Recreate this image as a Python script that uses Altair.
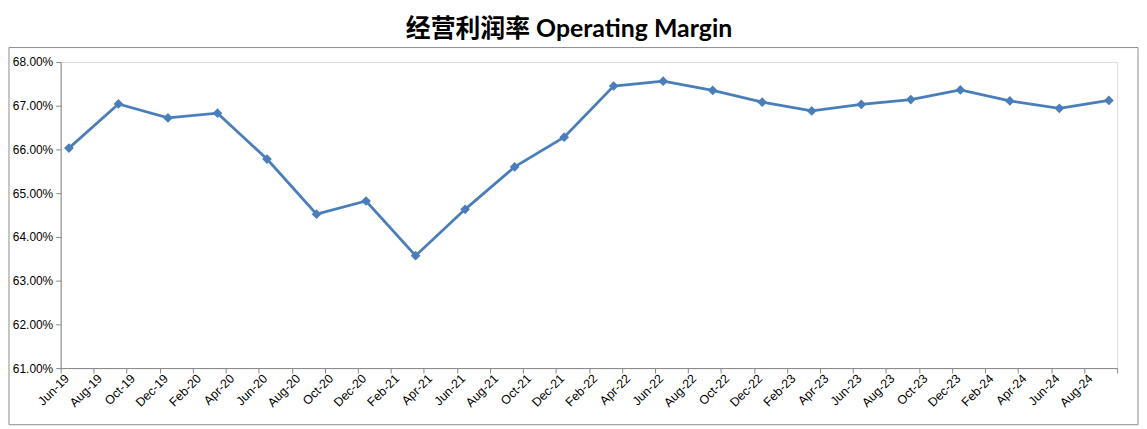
import altair as alt
import pandas as pd

# ---- data ----
quarters = ["Jun-19", "Sep-19", "Dec-19", "Mar-20", "Jun-20", "Sep-20", "Dec-20",
            "Mar-21", "Jun-21", "Sep-21", "Dec-21", "Mar-22", "Jun-22", "Sep-22",
            "Dec-22", "Mar-23", "Jun-23", "Sep-23", "Dec-23", "Mar-24", "Jun-24", "Sep-24"]
margin_pct = [66.03, 67.04, 66.72, 66.83, 65.78, 64.52, 64.82, 63.57, 64.63, 65.60,
              66.28, 67.45, 67.56, 67.35, 67.08, 66.88, 67.03, 67.14, 67.36, 67.11,
              66.94, 67.12]
tick_labels = ["Jun-19", "Aug-19", "Oct-19", "Dec-19", "Feb-20", "Apr-20", "Jun-20",
               "Aug-20", "Oct-20", "Dec-20", "Feb-21", "Apr-21", "Jun-21", "Aug-21",
               "Oct-21", "Dec-21", "Feb-22", "Apr-22", "Jun-22", "Aug-22", "Oct-22",
               "Dec-22", "Feb-23", "Apr-23", "Jun-23", "Aug-23", "Oct-23", "Dec-23",
               "Feb-24", "Apr-24", "Jun-24", "Aug-24"]
y_ticks = [61, 62, 63, 64, 65, 66, 67, 68]
title_text = "经营利润率 Operating Margin"

# ---- build table ----
dates = pd.to_datetime(quarters, format="%b-%y")
start = dates[0]
month_idx = [(d.year - start.year) * 12 + (d.month - start.month) + 0.5 for d in dates]
df = pd.DataFrame({"m": month_idx, "v": [x / 100 for x in margin_pct], "q": quarters})

n_months = 2 * len(tick_labels)  # axis spans through the unlabeled last tick
tick_vals = list(range(0, n_months + 1, 2))
label_arr = "[" + ",".join("'" + t + "'" for t in tick_labels) + "]"
label_expr = f"datum.value/2 < {len(tick_labels)} ? {label_arr}[datum.value/2] : ''"

W, H = 1063, 308
axis_grey = "#868686"
blue = "#4A7EBB"

x_enc = alt.X("m:Q",
              scale=alt.Scale(domain=[0, n_months], nice=False, zero=False),
              axis=alt.Axis(values=tick_vals, labelExpr=label_expr, title=None,
                            labelAngle=315, labelAlign="right", labelBaseline="middle",
                            labelOffset=6, labelPadding=3, tickSize=5,
                            domainColor=axis_grey, tickColor=axis_grey,
                            labelFont="Liberation Sans", labelFontSize=12.5,
                            labelColor="#000000", grid=False, labelOverlap=False,
                            labelBound=False, labelFlush=False))
y_enc = alt.Y("v:Q",
              scale=alt.Scale(domain=[y_ticks[0] / 100, y_ticks[-1] / 100], nice=False, zero=False),
              axis=alt.Axis(values=[t / 100 for t in y_ticks], format=".2%", title=None,
                            tickSize=5, domainColor=axis_grey, tickColor=axis_grey,
                            labelFont="Liberation Sans", labelFontSize=12,
                            labelColor="#000000", grid=False, labelPadding=3,
                            labelOverlap=False))

base = alt.Chart(df).encode(x=x_enc, y=y_enc)
line = base.mark_line(color=blue, strokeWidth=2.8)
points = base.mark_point(shape="diamond", filled=True, color=blue, size=95, opacity=1)

frame = alt.Chart(pd.DataFrame({"a": [0]})).mark_rect(
    fill=None, stroke="#8c8c8c", strokeWidth=1
).encode(x=alt.value(-52), x2=alt.value(1084), y=alt.value(-14.5), y2=alt.value(365))

chart = alt.layer(frame, line, points).properties(
    width=W, height=H,
    title=alt.TitleParams(title_text, font="Lato, Noto Sans CJK SC", fontSize=25,
                          fontWeight="bold", color="#000000", anchor="middle",
                          offset=5, dx=-20),
    autosize=alt.AutoSizeParams(type="none"),
    padding={"left": 53, "top": 53, "right": 22, "bottom": 59},
).configure_view(stroke="transparent", strokeWidth=0).configure(background="white")

chart.save("out.html", embed_options={"renderer": "svg", "actions": False})
